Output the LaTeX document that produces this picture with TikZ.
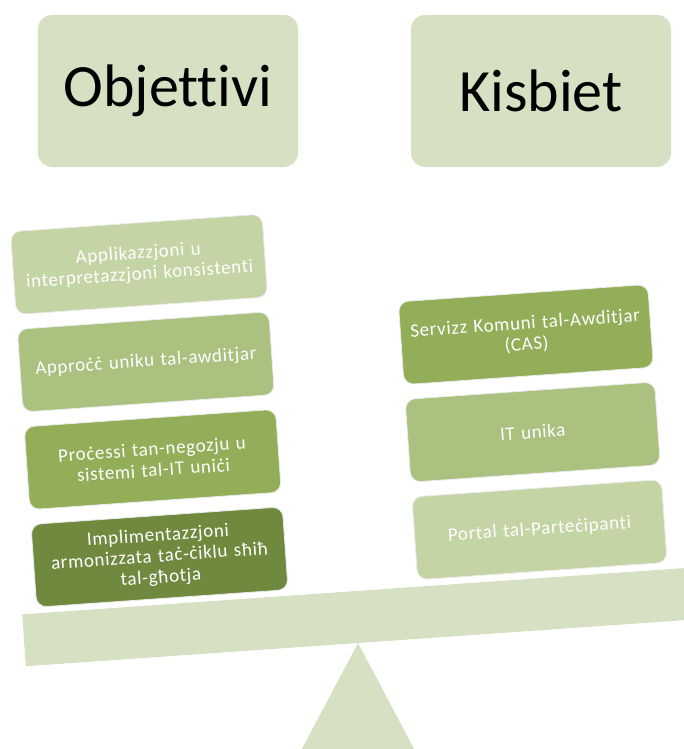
\documentclass[tikz,border=0pt]{standalone}
\usepackage{fontspec}
\setmainfont[Ligatures=NoCommon]{Carlito}
\newfontfamily\itemfont[LetterSpace=3.5, Ligatures=NoCommon]{Carlito}
\usepackage{tikz}
\usetikzlibrary{positioning}
\definecolor{balpale}{RGB}{214,225,196}
\definecolor{balone}{RGB}{196,212,165}
\definecolor{baltwo}{RGB}{170,193,127}
\definecolor{balthree}{RGB}{146,174,88}
\definecolor{balfour}{RGB}{111,138,62}

\begin{document}
\begin{tikzpicture}[
    x=0.5pt, y=-0.5pt,
    header/.style={rectangle, fill=balpale, minimum width=130pt, minimum height=76pt, rounded corners=7pt, font=\fontsize{30}{36}\selectfont},
    item/.style={rectangle, draw=black!8, line width=0.4pt, text=white, text width=120pt, align=center, minimum width=126pt, minimum height=41.5pt, rounded corners=5pt, inner sep=2pt, font=\itemfont\fontsize{9.5}{10.5}\selectfont},
    support/.style={fill=balpale}
]
\useasboundingbox (0,0) rectangle (684,749);
\clip (0,0) rectangle (684,749);

% Headers
\node[header] (obj) at (168,91) {Objettivi};
\node[header] (kis) at (541,91) {Kisbiet};

% Fulcrum
\fill[support] (358,643) -- (420,760) -- (296,760) -- cycle;

\begin{scope}[rotate around={4:(358,643)}, transform shape]
% Beam
\fill[support] (25,591) rectangle (760,643);

% Objectives
\node[item, fill=balone] (appl) at (166,250) {Applikazzjoni u\\interpretazzjoni konsistenti};
\node[item, fill=baltwo, below=7pt of appl] (approc) {Approċċ uniku tal-awditjar};
\node[item, fill=balthree, below=7pt of approc] (process) {Proċessi tan-negozju u\\sistemi tal-IT uniċi};
\node[item, fill=balfour, below=7pt of process] (implim) {Implimentazzjoni\\armonizzata taċ-ċiklu sħiħ\\tal-għotja};

% Benefits
\node[item, fill=balthree, minimum width=125pt] (cas) at (547,347) {Servizz Komuni tal-Awditjar\\(CAS)};
\node[item, fill=baltwo, minimum width=125pt, below=7pt of cas] (itun) {IT unika};
\node[item, fill=balone, minimum width=125pt, below=7pt of itun] (portal) {Portal tal-Parteċipanti};
\end{scope}

\end{tikzpicture}
\end{document}
